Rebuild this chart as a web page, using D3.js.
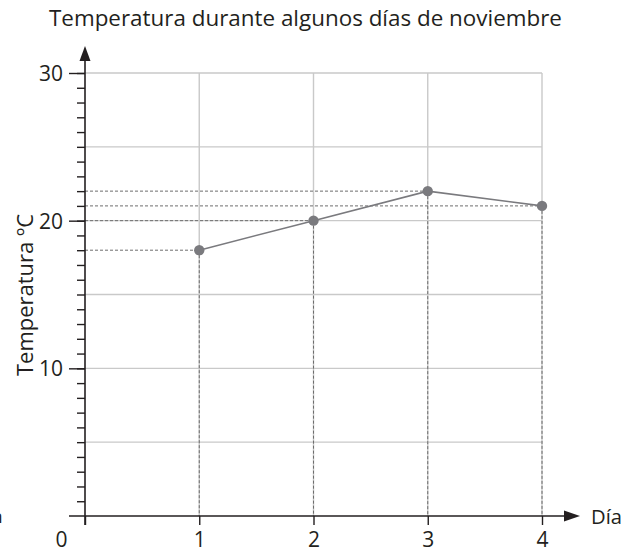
<!DOCTYPE html>
<html><head><meta charset="utf-8">
<script src="https://cdn.jsdelivr.net/npm/d3@7"></script>
<style>body{margin:0;background:#fff}svg{display:block}text{font-family:"Open Sans",sans-serif;fill:#231f20}</style>
</head><body><svg id="c" width="632" height="552"></svg>
<script>
const title = "Temperatura durante algunos días de noviembre";
const yTitle = "Temperatura ºC";
const xTitle = "Día";
const days = [1, 2, 3, 4];
const temps = [18, 20, 22, 21];
const xTickLabels = [0, 1, 2, 3, 4];
const yTickLabels = [10, 20, 30];
const yGrid = [5, 10, 15, 20, 25, 30];
const yMinor = d3.range(1, 31);

const svg = d3.select("#c");
const x = d3.scaleLinear().domain([0, 4]).range([85, 542]);
const y = d3.scaleLinear().domain([0, 30]).range([516, 73]);

function fit(sel, w) {
  const n = sel.node(); const cur = +sel.attr("font-size");
  sel.attr("font-size", cur * w / n.getComputedTextLength());
}

// grid
svg.append("g").selectAll("line").data(yGrid).join("line")
  .attr("x1", x(0)).attr("x2", x(4)).attr("y1", d => y(d)).attr("y2", d => y(d))
  .attr("stroke", "#c9c9c9").attr("stroke-width", 1.4);
svg.append("g").selectAll("line").data(days).join("line")
  .attr("x1", d => x(d)).attr("x2", d => x(d)).attr("y1", y(30)).attr("y2", y(0))
  .attr("stroke", "#c9c9c9").attr("stroke-width", 1.4);

// dashed guides
const pts = days.map((d, i) => ({d, t: temps[i]}));
svg.append("g").selectAll("line").data(pts).join("line")
  .attr("x1", x(0)).attr("x2", p => x(p.d)).attr("y1", p => y(p.t)).attr("y2", p => y(p.t))
  .attr("stroke", "#6d6d6d").attr("stroke-width", 1).attr("stroke-dasharray", "3,2");
svg.append("g").selectAll("line").data(pts).join("line")
  .attr("x1", p => x(p.d)).attr("x2", p => x(p.d)).attr("y1", p => y(p.t)).attr("y2", y(0))
  .attr("stroke", "#6d6d6d").attr("stroke-width", 1).attr("stroke-dasharray", "3,2");

// y minor/major ticks via axes
const gy = svg.append("g").attr("transform", `translate(${x(0)},0)`)
  .call(d3.axisLeft(y).tickValues(yMinor).tickSize(8).tickFormat(""));
gy.select(".domain").remove();
gy.selectAll("line").attr("stroke", "#231f20").attr("stroke-width", 1.4);
const gy2 = svg.append("g").attr("transform", `translate(${x(0)},0)`)
  .call(d3.axisLeft(y).tickValues(yTickLabels).tickSize(16).tickPadding(6).tickFormat(d3.format("d")));
gy2.select(".domain").remove();
gy2.selectAll("line").attr("stroke", "#231f20").attr("stroke-width", 1.4);
gy2.selectAll("text").attr("font-size", 21).attr("font-family", "Open Sans").attr("fill", "#231f20").attr("dy", "0.35em");

// x ticks
const gx = svg.append("g").attr("transform", `translate(0,${y(0)})`)
  .call(d3.axisBottom(x).tickValues(xTickLabels).tickSize(9).tickPadding(7).tickFormat(d3.format("d")));
gx.select(".domain").remove();
gx.selectAll("line").attr("stroke", "#231f20").attr("stroke-width", 1.4);
gx.selectAll("text").attr("font-size", 21).attr("font-family", "Open Sans").attr("fill", "#231f20");
gx.selectAll(".tick").filter(d => d === 0).select("text").attr("x", -24);

// axis lines + arrows
svg.append("line").attr("x1", x(0)).attr("x2", x(0)).attr("y1", 58).attr("y2", y(0) + 9)
  .attr("stroke", "#231f20").attr("stroke-width", 1.6);
svg.append("path").attr("d", `M${x(0)},46 L${x(0) + 5.5},61 L${x(0) - 5.5},61 Z`).attr("fill", "#231f20");
svg.append("line").attr("x1", 69).attr("x2", 566).attr("y1", y(0)).attr("y2", y(0))
  .attr("stroke", "#231f20").attr("stroke-width", 1.6);
svg.append("path").attr("d", `M580,${y(0)} L564,${y(0) - 5.5} L564,${y(0) + 5.5} Z`).attr("fill", "#231f20");

// data line + points
svg.append("path").datum(pts)
  .attr("d", d3.line().x(p => x(p.d)).y(p => y(p.t)))
  .attr("fill", "none").attr("stroke", "#7a7a7e").attr("stroke-width", 1.6);
svg.append("g").selectAll("circle").data(pts).join("circle")
  .attr("cx", p => x(p.d)).attr("cy", p => y(p.t)).attr("r", 5.2).attr("fill", "#7a7a7e");

// texts
const tt = svg.append("text").attr("x", 49).attr("y", 26).attr("font-size", 20).text(title);
fit(tt, 513);
const xt = svg.append("text").attr("x", 591).attr("y", 524).attr("font-size", 20).text(xTitle);
fit(xt, 31);
const yt = svg.append("text").attr("transform", "translate(33,376) rotate(-90)").attr("font-size", 20).text(yTitle);
fit(yt, 162);
svg.append("text").attr("x", -9).attr("y", 523).attr("font-size", 19).text("n");
</script></body></html>
